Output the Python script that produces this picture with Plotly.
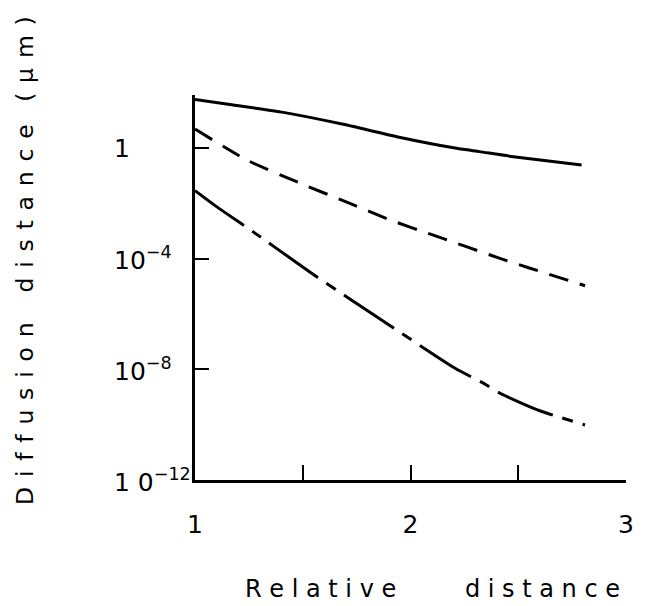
import math
import plotly.graph_objects as go

# Relative distance (x) and diffusion distance in µm (y)
x_solid = [1.0, 1.178, 1.41, 1.688, 1.936, 2.214, 2.32, 2.477, 2.794]
y_solid = [58.9, 37.2, 20.0, 7.4, 2.63, 1.0, 0.76, 0.50, 0.25]

x_dashed = [1.0, 1.24, 1.5, 1.719, 1.905, 2.106, 2.415, 2.555, 2.81]
y_dashed = [5.0, 0.38, 0.050, 1.02e-2, 2.57e-3, 7.2e-4, 1.05e-4, 4.6e-5, 1.07e-5]

x_dashdot = [1.0, 1.10, 1.27, 1.487, 1.565, 1.843, 2.207, 2.338, 2.415, 2.60, 2.81]
y_dashdot = [2.95e-2, 7.8e-3, 9.5e-4, 6.0e-5, 2.24e-5, 8.1e-7, 1.10e-8, 3.2e-9, 1.38e-9, 3.2e-10, 9.8e-11]

x_tickvals = [1, 1.5, 2, 2.5, 3]
x_ticktext = ["1", "", "2", "", "3"]
y_tickvals = [1e-12, 1e-8, 1e-4, 1]
y_ticktext = ["1 0<sup>−12</sup>", "10<sup>−8</sup>", "10<sup>−4</sup>", "1"]

FONT = "DejaVu Sans"
NB = "\u00a0"
HAIR = "\u200a"

def spaced(word, sep=NB):
    return sep.join(list(word))

fig = go.Figure()
fig.add_trace(go.Scatter(x=x_solid, y=y_solid, mode="lines",
                         line=dict(color="black", width=3, shape="spline", smoothing=0.6)))
fig.add_trace(go.Scatter(x=x_dashed, y=y_dashed, mode="lines",
                         line=dict(color="black", width=3, dash="20px,12px", shape="spline", smoothing=0.6)))
fig.add_trace(go.Scatter(x=x_dashdot, y=y_dashdot, mode="lines",
                         line=dict(color="black", width=3, dash="60px,10px,11px,10px", shape="spline", smoothing=0.6)))

L, R, T, B = 195, 19, 95, 126
W, H = 645, 606
pw = W - L - R
ph = H - T - B

fig.update_layout(
    width=W, height=H,
    margin=dict(l=L, r=R, t=T, b=B, pad=0),
    paper_bgcolor="white", plot_bgcolor="white",
    showlegend=False,
    font=dict(family=FONT, color="black", size=24),
    xaxis=dict(range=[1, 3], showgrid=False, zeroline=False,
               showline=True, linecolor="black", linewidth=2.5,
               ticks="inside", ticklen=15, tickwidth=1.5, tickcolor="black",
               tickvals=x_tickvals, ticktext=x_ticktext,
               tickfont=dict(size=25, family=FONT), ticklabelstandoff=20),
    yaxis=dict(type="log", range=[-12, 1.93], showgrid=False, zeroline=False,
               showline=True, linecolor="black", linewidth=2.5,
               ticks="inside", ticklen=14, tickwidth=1.5, tickcolor="black",
               tickvals=y_tickvals, showticklabels=False),
)

# y tick labels, left aligned as in the original
for v, t in zip(y_tickvals, y_ticktext):
    fig.add_annotation(x=(112 - L) / pw, xref="paper", y=math.log10(v), yref="y",
                       text=t, showarrow=False, xanchor="left", yanchor="middle",
                       font=dict(size=25, family=FONT))

# axis titles
xtitle = spaced("Relative") + NB * 9 + spaced("distance")
fig.add_annotation(x=(432 - L) / pw, xref="paper", y=(T + ph - (H - 2)) / ph, yref="paper",
                   text=xtitle, showarrow=False, xanchor="center", yanchor="bottom",
                   borderpad=0, font=dict(size=24, family=FONT))
sep = NB + HAIR
ytitle = (spaced("Diffusion", sep) + NB * 4 + spaced("distance", sep) + NB * 3
          + "(" + sep + "µ" + sep + "m" + sep + ")")
fig.add_annotation(x=(25 - L) / pw, xref="paper", y=(T + ph - 261) / ph, yref="paper",
                   text=ytitle, showarrow=False, textangle=-90, xanchor="center", yanchor="middle",
                   font=dict(size=23.5, family=FONT))

fig.write_html("out.html")
